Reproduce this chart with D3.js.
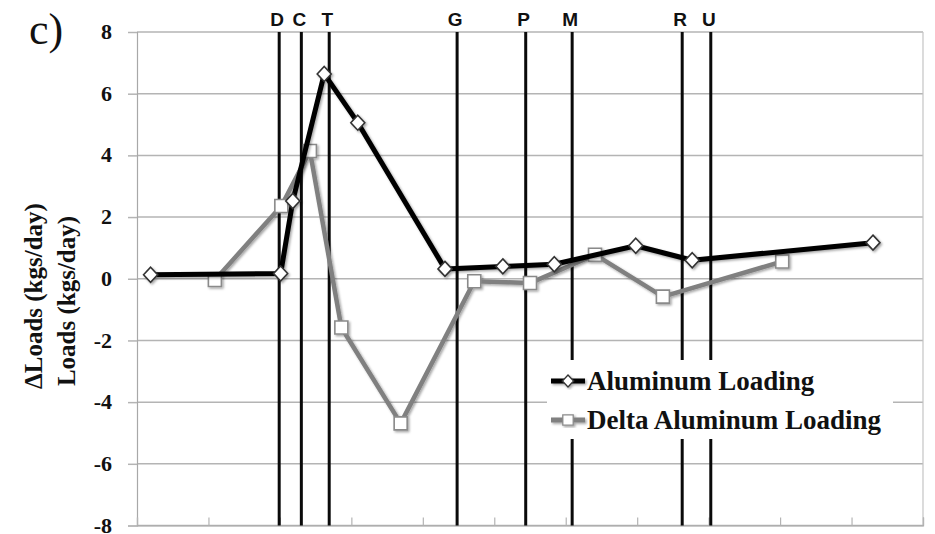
<!DOCTYPE html>
<html>
<head>
<meta charset="utf-8">
<script src="https://cdn.jsdelivr.net/npm/d3@7"></script>
<style>
body { margin: 0; background: #fff; }
svg { display: block; }
</style>
</head>
<body>
<div class="interactive-wrapper"></div>
<script>

// Aluminum Loading (kgs/day)
const aluminumX = [1.9, 20.1, 21.8, 26.2, 30.9, 43.1, 51.2, 58.4, 69.8, 77.7, 103.0]
const aluminumY = [0.13, 0.17, 2.52, 6.64, 5.06, 0.32, 0.40, 0.47, 1.07, 0.60, 1.17]

// Delta Aluminum Loading (kgs/day)
const deltaX = [10.9, 20.2, 24.2, 28.6, 36.9, 47.2, 55.0, 64.1, 73.6, 90.3]
const deltaY = [-0.04, 2.36, 4.14, -1.58, -4.69, -0.08, -0.14, 0.78, -0.58, 0.56]

// lettered markers along the x axis
const markerNames = ['D', 'C', 'T', 'G', 'P', 'M', 'R', 'U']
const markerX = [19.9, 23.0, 26.9, 44.8, 54.4, 60.9, 76.3, 80.3]

const yTicks = [-8, -6, -4, -2, 0, 2, 4, 6, 8]
const xTicks = [0, 10, 20, 30, 40, 50, 60, 70, 80, 90, 100, 110]

const seriesNames = ['Aluminum Loading', 'Delta Aluminum Loading']

let width = 935
let height = 534

let x = d3.scaleLinear()
.domain([0, 110])
.range([137, 923])

let y = d3.scaleLinear()
.domain([-8, 8])
.range([525.5, 32])

let svg = d3.select('.interactive-wrapper').append('svg')
.attr('width', width)
.attr('height', height)

let defs = svg.append('defs')

defs.append('filter')
.attr('id', 'shadow')
.attr('x', '-20%').attr('y', '-20%')
.attr('width', '140%').attr('height', '140%')
.append('feDropShadow')
.attr('dx', 1.5)
.attr('dy', 1.5)
.attr('stdDeviation', 1.3)
.attr('flood-color', '#000')
.attr('flood-opacity', 0.35)

// gridlines
svg.append('g')
.selectAll('line')
.data(yTicks)
.enter()
.append('line')
.attr('x1', x(0))
.attr('x2', x(110))
.attr('y1', d => y(d))
.attr('y2', d => y(d))
.style('stroke', '#b4b4b4')
.style('stroke-width', 1.5)

// plot frame right side
svg.append('line')
.attr('x1', x(110)).attr('x2', x(110))
.attr('y1', y(8)).attr('y2', y(-8))
.style('stroke', '#c4c4c4')
.style('stroke-width', 1.2)

let yAxis = svg.append('g')
.attr('transform', `translate(${x(0)},0)`)
.call(d3.axisLeft(y).tickValues(yTicks).tickSize(9).tickPadding(16).tickFormat(d => String(d)))

yAxis.select('.domain').style('stroke', '#a8a8a8').style('stroke-width', 1.2)
yAxis.selectAll('.tick line').style('stroke', '#b4b4b4').style('stroke-width', 1.5)
yAxis.selectAll('.tick text')
.style('font-family', '"Liberation Serif", "Times New Roman", serif')
.style('font-weight', 'bold')
.style('font-size', '22px')
.attr('dy', '0.3em')
.style('fill', '#111')

let xAxis = svg.append('g')
.attr('transform', `translate(0,${y(-8)})`)
.call(d3.axisBottom(x).tickValues(xTicks).tickSize(-8).tickFormat(''))

xAxis.select('.domain').style('stroke', '#a8a8a8').style('stroke-width', 1.2)
xAxis.selectAll('.tick line').style('stroke', '#b4b4b4').style('stroke-width', 1.2)

// vertical marker lines
svg.append('g')
.selectAll('line')
.data(markerX)
.enter()
.append('line')
.attr('x1', d => x(d))
.attr('x2', d => x(d))
.attr('y1', y(8))
.attr('y2', y(-8))
.style('stroke', '#0a0a0a')
.style('stroke-width', 3)

svg.append('g')
.selectAll('text')
.data(markerNames)
.enter()
.append('text')
.attr('x', (d, i) => x(markerX[i]) - 2)
.attr('y', 26)
.attr('text-anchor', 'middle')
.style('font-family', '"Liberation Sans", Arial, sans-serif')
.style('font-weight', 'bold')
.style('font-size', '19px')
.style('fill', '#111')
.text(d => d)

// legend background, covers the grid and some marker lines
svg.append('rect')
.attr('x', 547)
.attr('y', 360)
.attr('width', 346)
.attr('height', 79)
.style('fill', '#fff')

let diamond = 'M0,-7.5L7,0L0,7.5L-7,0Z'
let square = 'M-6.5,-6.5H6.5V6.5H-6.5Z'

let line = d3.line()
.x(d => x(d[0]))
.y(d => y(d[1]))

let deltaPoints = deltaX.map((d, i) => [d, deltaY[i]])
let aluminumPoints = aluminumX.map((d, i) => [d, aluminumY[i]])

let deltaGroup = svg.append('g').attr('filter', 'url(#shadow)')

deltaGroup.append('path')
.datum(deltaPoints)
.attr('d', line)
.style('fill', 'none')
.style('stroke', '#808080')
.style('stroke-width', 4.5)
.style('stroke-linejoin', 'round')

deltaGroup.selectAll('.pt')
.data(deltaPoints)
.enter()
.append('path')
.attr('class', 'pt')
.attr('d', square)
.attr('transform', d => `translate(${x(d[0])},${y(d[1])})`)
.style('fill', '#fff')
.style('stroke', '#8a8a8a')
.style('stroke-width', 1.6)

let aluminumGroup = svg.append('g').attr('filter', 'url(#shadow)')

aluminumGroup.append('path')
.datum(aluminumPoints)
.attr('d', line)
.style('fill', 'none')
.style('stroke', '#050505')
.style('stroke-width', 5)
.style('stroke-linejoin', 'round')

aluminumGroup.selectAll('.pt')
.data(aluminumPoints)
.enter()
.append('path')
.attr('class', 'pt')
.attr('d', diamond)
.attr('transform', d => `translate(${x(d[0])},${y(d[1])})`)
.style('fill', '#fff')
.style('stroke', '#333')
.style('stroke-width', 1.6)

// legend
let legendRows = [
	{ y: 381, stroke: '#050505', marker: diamond, markerStroke: '#333' },
	{ y: 420, stroke: '#808080', marker: square, markerStroke: '#8a8a8a' }
]

let legend = svg.append('g')

legendRows.forEach((row, i) => {

	let g = legend.append('g').attr('filter', 'url(#shadow)')

	g.append('line')
	.attr('x1', 551).attr('x2', 585)
	.attr('y1', row.y).attr('y2', row.y)
	.style('stroke', row.stroke)
	.style('stroke-width', 5)

	g.append('path')
	.attr('d', row.marker)
	.attr('transform', `translate(568,${row.y}) scale(0.8)`)
	.style('fill', '#fff')
	.style('stroke', row.markerStroke)
	.style('stroke-width', 1.6)

	legend.append('text')
	.attr('x', 587)
	.attr('y', row.y + 9)
	.style('font-family', '"Liberation Serif", "Times New Roman", serif')
	.style('font-weight', 'bold')
	.style('font-size', '27px')
	.style('fill', '#111')
	.text(seriesNames[i])
})

// axis title, two lines
let titleFont = '"Liberation Serif", "Times New Roman", serif'

svg.append('text')
.attr('transform', 'translate(42,296) rotate(-90)')
.attr('text-anchor', 'middle')
.style('font-family', titleFont)
.style('font-weight', 'bold')
.style('font-size', '25px')
.style('fill', '#111')
.text('\u0394Loads (kgs/day)')

svg.append('text')
.attr('transform', 'translate(75,301) rotate(-90)')
.attr('text-anchor', 'middle')
.style('font-family', titleFont)
.style('font-weight', 'bold')
.style('font-size', '25px')
.style('fill', '#111')
.text('Loads (kgs/day)')

// panel letter
svg.append('text')
.attr('x', 29)
.attr('y', 44)
.style('font-family', titleFont)
.style('font-size', '44px')
.style('fill', '#111')
.text('c)')

</script>
</body>
</html>
